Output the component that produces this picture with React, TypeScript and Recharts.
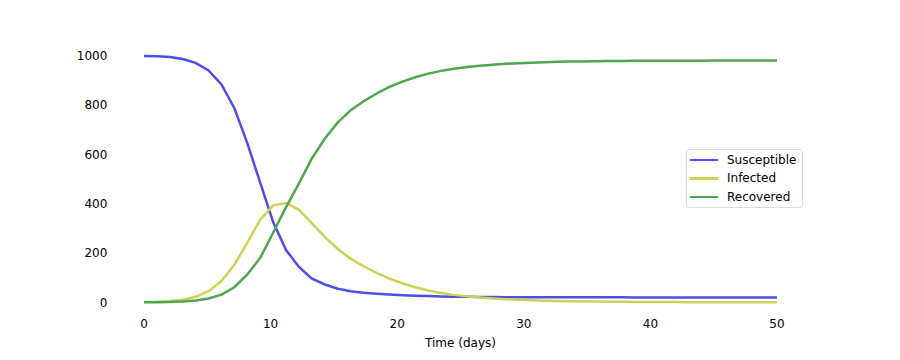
import { LineChart, Line, XAxis, YAxis, Legend } from "recharts";

// time points (days)
const times = [
  0, 1.02, 2.04, 3.06, 4.08, 5.1, 6.12, 7.14, 8.16, 9.18,
  10.2, 11.22, 12.24, 13.27, 14.29, 15.31, 16.33, 17.35, 18.37, 19.39,
  20.41, 21.43, 22.45, 23.47, 24.49, 25.51, 26.53, 27.55, 28.57, 29.59,
  30.61, 31.63, 32.65, 33.67, 34.69, 35.71, 36.73, 37.76, 38.78, 39.8,
  40.82, 41.84, 42.86, 43.88, 44.9, 45.92, 46.94, 47.96, 48.98, 50,
];

const susceptible = [
  999, 997.4, 994, 986, 970.5, 940, 883, 787, 645, 485,
  325, 212, 143, 96, 72, 55, 45, 39, 34.5, 31,
  28.5, 26.5, 25, 23.8, 22.8, 22, 21.4, 21, 20.7, 20.5,
  20.3, 20.2, 20.1, 20, 19.95, 19.9, 19.87, 19.85, 19.83, 19.82,
  19.81, 19.8, 19.8, 19.79, 19.79, 19.79, 19.78, 19.78, 19.78, 19.78,
];

const infected = [
  1, 2.2, 4.8, 10.5, 22, 45, 86, 152, 242, 335,
  393, 402, 375, 320, 264, 216, 176, 146, 119, 96,
  77, 61, 48, 38, 30, 24, 19.5, 15.7, 12.6, 10.1,
  8.1, 6.5, 5.2, 4.2, 3.4, 2.7, 2.2, 1.75, 1.4, 1.12,
  0.9, 0.72, 0.58, 0.46, 0.37, 0.3, 0.24, 0.19, 0.15, 0.12,
];

const recovered = [
  0, 0.4, 1.2, 3.5, 7.5, 15, 31, 61, 113, 180,
  282, 386, 482, 584, 664, 729, 779, 815, 846.5, 873,
  894.5, 912.5, 927, 938.2, 947.2, 954, 959.1, 963.3, 966.7, 969.4,
  971.6, 973.3, 974.7, 975.8, 976.65, 977.4, 977.93, 978.4, 978.77, 979.06,
  979.29, 979.48, 979.62, 979.75, 979.84, 979.91, 979.98, 980.03, 980.07, 980.1,
];

const xTicks = [0, 10, 20, 30, 40, 50];
const yTicks = [0, 200, 400, 600, 800, 1000];

const series = [
  { key: "susceptible", name: "Susceptible", color: "#4d4de8" },
  { key: "infected", name: "Infected", color: "#cdd255" },
  { key: "recovered", name: "Recovered", color: "#4ea64e" },
];

const data = times.map((t, i) => ({
  t,
  susceptible: susceptible[i],
  infected: infected[i],
  recovered: recovered[i],
}));

const font = "DejaVu Sans";
const tickStyle = { fill: "#000", fontSize: 12, fontFamily: font };

const renderLegend = () => (
  <div
    style={{
      position: "relative",
      width: 117,
      height: 59,
      boxSizing: "border-box",
      border: "1px solid #dcdcdc",
      borderRadius: 3,
      background: "rgba(255,255,255,0.8)",
      fontFamily: font,
      fontSize: 12,
      color: "#000",
    }}
  >
    {series.map((s, i) => (
      <div
        key={s.key}
        style={{
          position: "absolute",
          left: 3,
          top: 1 + i * 18.4,
          height: 18,
          display: "flex",
          alignItems: "center",
          whiteSpace: "nowrap",
        }}
      >
        <div style={{ width: 28, height: 2.5, background: s.color }} />
        <span style={{ marginLeft: 9 }}>{s.name}</span>
      </div>
    ))}
  </div>
);

export default function App() {
  return (
    <div style={{ position: "absolute", left: 0, top: 0, width: 900, height: 360, background: "#fff" }}>
      <LineChart
        width={900}
        height={360}
        data={data}
        margin={{ top: 43.3, right: 91.35, bottom: 0, left: 52.35 }}
      >
        <XAxis
          dataKey="t"
          type="number"
          domain={[-2.5, 52.5]}
          ticks={xTicks}
          axisLine={false}
          tickLine={false}
          tickSize={3}
          tickMargin={2}
          height={45.4}
          tick={tickStyle}
          label={{
            value: "Time (days)",
            position: "insideBottom",
            offset: 13.5,
            fill: "#000",
            fontSize: 12,
            fontFamily: font,
          }}
        />
        <YAxis
          type="number"
          domain={[-50, 1050]}
          ticks={yTicks}
          axisLine={false}
          tickLine={false}
          tickSize={3}
          tickMargin={2}
          width={60}
          tick={tickStyle}
        />
        <Legend
          layout="vertical"
          align="center"
          verticalAlign="middle"
          content={renderLegend}
          wrapperStyle={{ left: 686, top: 149, width: 117, height: 59 }}
        />
        {series.map((s) => (
          <Line
            key={s.key}
            type="linear"
            dataKey={s.key}
            name={s.name}
            stroke={s.color}
            strokeWidth={2.5}
            dot={false}
            activeDot={false}
            isAnimationActive={false}
          />
        ))}
      </LineChart>
    </div>
  );
}
